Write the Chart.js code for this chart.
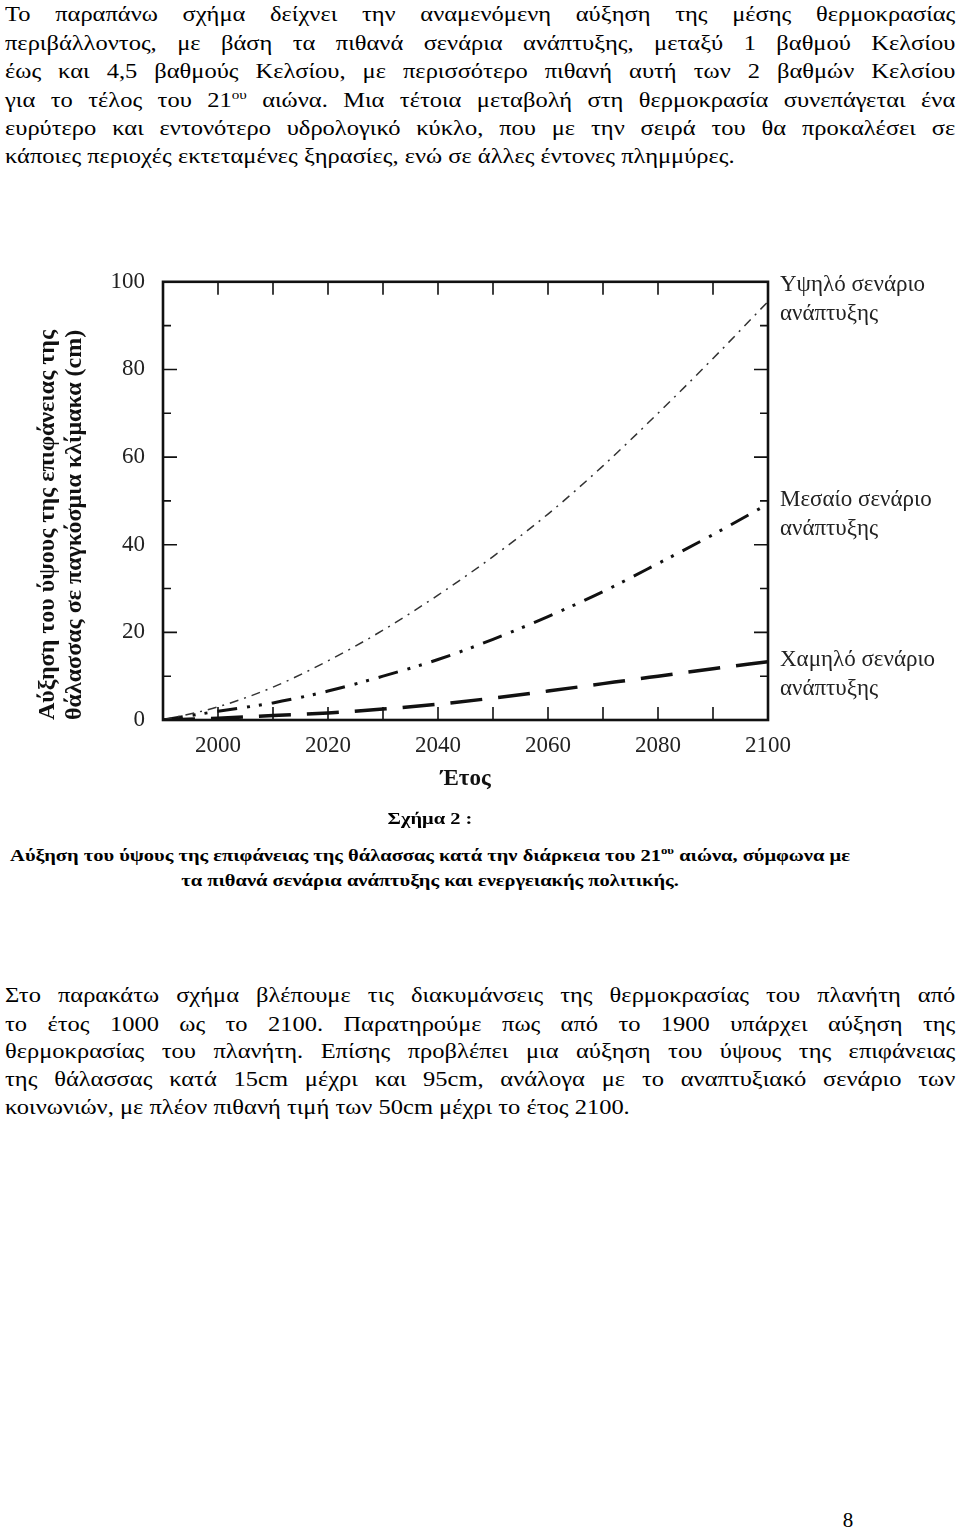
<!DOCTYPE html>
<html lang="el">
<head>
<meta charset="utf-8">
<title>Σχήμα 2</title>
<script src="https://cdn.jsdelivr.net/npm/chart.js@4.4.1/dist/chart.umd.min.js"></script>
<style>
  html, body { margin: 0; padding: 0; background: #fff; }
  body {
    width: 960px; height: 1530px; position: relative; overflow: hidden;
    font-family: "Liberation Serif", "Times New Roman", serif; color: #000;
  }
  /* the scanned page is stretched sideways, so the text is widened to match */
  .ln {
    position: absolute; left: 5px; width: 815px;
    font-size: 21px; line-height: 28px; height: 28px;
    text-align: justify; text-align-last: justify;
    transform: scaleX(1.166); transform-origin: 0 0;
  }
  .ln.last { text-align-last: left; }
  .ln sup { font-size: 13px; line-height: 0; vertical-align: 8px; }
  .cap {
    position: absolute; left: 0; width: 860px;
    font-size: 17.5px; line-height: 24px; font-weight: bold; text-align: center;
    transform: scaleX(1.17); transform-origin: 430px 0;
  }
  .cap sup { font-size: 11px; line-height: 0; vertical-align: 7px; }
  #chartBox { position: absolute; left: 0; top: 250px; width: 960px; height: 560px; }
  #pageNum { position: absolute; left: 838px; top: 1506px; width: 20px; text-align: center; font-size: 21px; line-height: 28px; }
</style>
</head>
<body>

<div class="ln" style="top:0px">Το παραπάνω σχήμα δείχνει την αναμενόμενη αύξηση της μέσης θερμοκρασίας</div>
<div class="ln" style="top:29px">περιβάλλοντος, με βάση τα πιθανά σενάρια ανάπτυξης, μεταξύ 1 βαθμού Κελσίου</div>
<div class="ln" style="top:57px">έως και 4,5 βαθμούς Κελσίου, με περισσότερο πιθανή αυτή των 2 βαθμών Κελσίου</div>
<div class="ln" style="top:86px">για το τέλος του 21<sup>ου</sup> αιώνα. Μια τέτοια μεταβολή στη θερμοκρασία συνεπάγεται ένα</div>
<div class="ln" style="top:114px">ευρύτερο και εντονότερο υδρολογικό κύκλο, που με την σειρά του θα προκαλέσει σε</div>
<div class="ln last" style="top:142px">κάποιες περιοχές εκτεταμένες ξηρασίες, ενώ σε άλλες έντονες πλημμύρες.</div>

<div id="chartBox"><canvas id="seaChart"></canvas></div>

<div class="cap" style="top:806px">Σχήμα 2 :</div>
<div class="cap" style="top:843px">Αύξηση του ύψους της επιφάνειας της θάλασσας κατά την διάρκεια του 21<sup>ου</sup> αιώνα, σύμφωνα με</div>
<div class="cap" style="top:868px">τα πιθανά σενάρια ανάπτυξης και ενεργειακής πολιτικής.</div>

<div class="ln" style="top:981px">Στο παρακάτω σχήμα βλέπουμε τις διακυμάνσεις της θερμοκρασίας του πλανήτη από</div>
<div class="ln" style="top:1010px">το έτος 1000 ως το 2100. Παρατηρούμε πως από το 1900 υπάρχει αύξηση της</div>
<div class="ln" style="top:1037px">θερμοκρασίας του πλανήτη. Επίσης προβλέπει μια αύξηση του ύψους της επιφάνειας</div>
<div class="ln" style="top:1065px">της θάλασσας κατά 15cm μέχρι και 95cm, ανάλογα με το αναπτυξιακό σενάριο των</div>
<div class="ln last" style="top:1093px">κοινωνιών, με πλέον πιθανή τιμή των 50cm μέχρι το έτος 2100.</div>

<div id="pageNum">8</div>

<script>
const years = [1990, 2000, 2010, 2020, 2030, 2040, 2050, 2060, 2070, 2080, 2090, 2100];
const highScenario = [0, 3, 7.5, 13.5, 20.5, 28.5, 37.3, 47, 58, 70, 82.5, 95.5];
const midScenario = [0, 2, 3.9, 6.6, 10, 13.8, 18.4, 23.6, 29.3, 35.7, 42.3, 49.3];
const lowScenario = [0, 0.4, 1, 1.6, 2.5, 3.6, 5, 6.6, 8.3, 10, 11.7, 13.3];

const scenarioLabels = [
  ["Υψηλό σενάριο", "ανάπτυξης"],
  ["Μεσαίο σενάριο", "ανάπτυξης"],
  ["Χαμηλό σενάριο", "ανάπτυξης"],
];
const yTitle = ["Αύξηση του ύψους της επιφάνειας της", "θάλασσας σε παγκόσμια κλίμακα (cm)"];
const xTitle = "Έτος";

// vertical shift of each scenario name from its curve end, px
const labelShift = [-17, -4, -2];

const serif = "'Liberation Serif', 'Times New Roman', serif";

function points(values) {
  return years.map((year, index) => ({ x: year, y: values[index] }));
}

// frame of the plot with inward tick marks on all four sides
const frameTicks = {
  id: "frameTicks",
  afterDatasetsDraw(chart) {
    const { ctx, chartArea: area, scales: { x, y } } = chart;
    ctx.save();
    ctx.strokeStyle = "#111";
    ctx.lineWidth = 1.6;
    ctx.beginPath();
    x.ticks.forEach((tick) => {
      const px = x.getPixelForValue(tick.value);
      ctx.moveTo(px, area.bottom);
      ctx.lineTo(px, area.bottom - 13);
      ctx.moveTo(px, area.top);
      ctx.lineTo(px, area.top + 13);
    });
    y.ticks.forEach((tick) => {
      const py = y.getPixelForValue(tick.value);
      const len = tick.value % 20 === 0 ? 14 : 8;
      ctx.moveTo(area.left, py);
      ctx.lineTo(area.left + len, py);
      ctx.moveTo(area.right, py);
      ctx.lineTo(area.right - len, py);
    });
    ctx.stroke();
    ctx.lineWidth = 2.6;
    ctx.strokeRect(area.left, area.top, area.right - area.left, area.bottom - area.top);
    ctx.restore();
  },
};

// scenario names next to the end of each curve
const endLabels = {
  id: "endLabels",
  afterDraw(chart) {
    const { ctx, chartArea: area } = chart;
    ctx.save();
    ctx.font = `23px ${serif}`;
    ctx.fillStyle = "#222";
    ctx.textBaseline = "middle";
    chart.data.datasets.forEach((dataset, index) => {
      const meta = chart.getDatasetMeta(index);
      const last = meta.data[meta.data.length - 1];
      scenarioLabels[index].forEach((text, line) => {
        ctx.fillText(text, area.right + 12, last.y + labelShift[index] + line * 29);
      });
    });
    ctx.restore();
  },
};

new Chart(document.querySelector("#seaChart"), {
  type: "line",
  data: {
    datasets: [
      {
        label: scenarioLabels[0].join(" "),
        data: points(highScenario),
        borderColor: "#333",
        borderWidth: 1.5,
        borderDash: [9, 6, 2, 6],
      },
      {
        label: scenarioLabels[1].join(" "),
        data: points(midScenario),
        borderColor: "#111",
        borderWidth: 3,
        borderDash: [20, 10, 3, 9, 3, 10],
      },
      {
        label: scenarioLabels[2].join(" "),
        data: points(lowScenario),
        borderColor: "#111",
        borderWidth: 3.5,
        borderDash: [32, 16],
      },
    ],
  },
  options: {
    responsive: true,
    maintainAspectRatio: false,
    animation: false,
    cubicInterpolationMode: "monotone",
    elements: { point: { radius: 0 } },
    layout: { padding: { top: 28, right: 192, left: 0, bottom: 0 } },
    plugins: { legend: { display: false }, tooltip: { enabled: false } },
    scales: {
      x: {
        type: "linear",
        min: 1990,
        max: 2100,
        afterFit(scale) { scale.height = 90; },
        grid: { display: false, drawTicks: false },
        border: { display: false },
        ticks: {
          stepSize: 10,
          autoSkip: false,
          maxRotation: 0,
          padding: 12,
          color: "#222",
          font: { family: serif, size: 23 },
          callback: (value) => (value >= 2000 && value % 20 === 0 ? String(value) : ""),
        },
        title: {
          display: true,
          text: xTitle,
          color: "#111",
          font: { family: serif, size: 23, weight: "bold" },
          padding: { top: 0, bottom: 17 },
        },
      },
      y: {
        min: 0,
        max: 100,
        afterFit(scale) { scale.width = 163; },
        grid: { display: false, drawTicks: false },
        border: { display: false },
        ticks: {
          stepSize: 10,
          padding: 18,
          color: "#222",
          font: { family: serif, size: 23 },
          callback: (value) => (value % 20 === 0 ? String(value) : ""),
        },
        title: {
          display: true,
          text: yTitle,
          align: "start",
          color: "#111",
          font: { family: serif, size: 24, weight: "bold", lineHeight: 1.125 },
          padding: { top: 34, bottom: 0 },
        },
      },
    },
  },
  plugins: [frameTicks, endLabels],
});
</script>
</body>
</html>
